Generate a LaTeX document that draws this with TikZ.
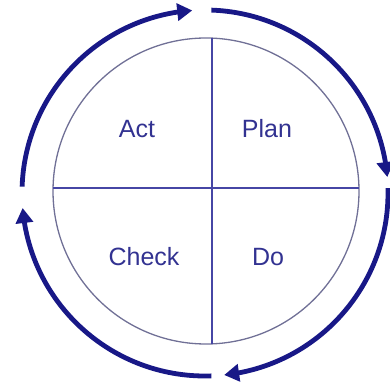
\documentclass[tikz,border=0pt]{standalone}
\usepackage{fontspec}
\setmainfont{Liberation Sans}
\usetikzlibrary{arrows.meta,bending}
\definecolor{navy}{RGB}{24,24,135}
\definecolor{ringc}{RGB}{112,112,150}
\definecolor{crossc}{RGB}{70,70,165}
\definecolor{textc}{RGB}{50,50,145}
\tikzset{
  cyclearc/.style={draw=navy, line width=4.8pt, -{Triangle[length=15pt,width=17pt,flex]}},
  lbl/.style={text=textc, font=\fontsize{25}{30}\selectfont, inner sep=0pt, anchor=base},
  ring/.style={draw=ringc, line width=1.3pt},
  cross/.style={draw=crossc, line width=1.3pt}
}
\begin{document}
\begin{tikzpicture}[x=1pt,y=1pt]
\useasboundingbox (0,0) rectangle (390,387);
\coordinate (O) at (205,194);
\coordinate (C) at (206,196);
% inner circle and quadrants
\draw[ring] (C) circle[radius=153];
\coordinate (l) at (53,199);
\coordinate (r) at (359,199);
\coordinate (t) at (212,349);
\coordinate (b) at (212,43.1);
\draw[cross] (l) -- (r);
\draw[cross] (t) -- (b);
% labels
\node[lbl] (act) at (137,249) {Act};
\node[lbl] (plan) at (267,249) {Plan};
\node[lbl] (check) at (144,121) {Check};
\node[lbl] (do) at (268,121) {Do};
% outer cycle arcs
\draw[cyclearc] ([shift={(178:183)}]O) arc[start angle=178, end angle=94, radius=183];
\draw[cyclearc] ([shift={(88:183)}]O) arc[start angle=88, end angle=5, radius=183];
\draw[cyclearc] ([shift={(1.5:183)}]O) arc[start angle=1.5, end angle=-84, radius=183];
\draw[cyclearc] ([shift={(-88:183)}]O) arc[start angle=-88, end angle=-175.3, radius=183];
\end{tikzpicture}
\end{document}
